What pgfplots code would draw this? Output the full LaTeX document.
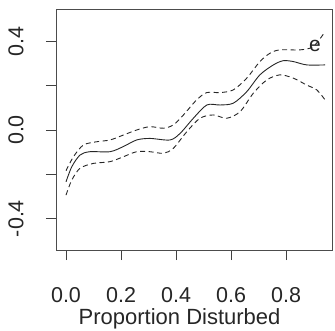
\documentclass[border=0pt]{standalone}
\usepackage{fontspec}
\setmainfont{Liberation Sans}
\usepackage{pgfplots}
\pgfplotsset{compat=1.18}
\begin{document}
\begin{tikzpicture}
\begin{axis}[
  name=ax,
  at={(0,0)}, anchor=south west,
  scale only axis,
  width=276.5pt, height=240pt,
  xmin=-0.0364, xmax=0.969,
  ymin=-0.542, ymax=0.542,
  axis line style={black!70, line width=1pt},
  xtick={0,0.2,0.4,0.6,0.8},
  xticklabels={0.0,0.2,0.4,0.6,0.8},
  ytick={-0.4,-0.2,0,0.2,0.4},
  yticklabels={-0.4,,0.0,,0.4},
  tick align=outside,
  xtick pos=bottom, ytick pos=left,
  major tick length=10pt,
  tick style={black!75, line width=1pt},
  /pgf/number format/assume math mode=true,
  ticklabel style={font=\fontsize{21.5}{24}\selectfont, text=black!85},
  xticklabel style={anchor=north, yshift=-24pt},
  yticklabel style={rotate=90, anchor=south, yshift=19pt},
  xlabel={Proportion Disturbed},
  xlabel style={font=\fontsize{22}{24}\selectfont, text=black!85, at={(axis cs:0.413,-0.542)}, anchor=north, yshift=-55pt},
  clip=false,
]
\addplot[black!85, line width=0.9pt, smooth, tension=0.5] coordinates {
(0.0,-0.234) (0.021,-0.166) (0.051,-0.113) (0.087,-0.098) (0.160,-0.098)
(0.208,-0.075) (0.257,-0.045) (0.305,-0.038) (0.378,-0.045) (0.415,-0.015)
(0.463,0.053) (0.512,0.113) (0.560,0.113) (0.608,0.121) (0.657,0.173)
(0.705,0.249) (0.754,0.294) (0.790,0.313) (0.827,0.309) (0.875,0.294) (0.942,0.294)
};
\addplot[black!85, line width=0.9pt, smooth, tension=0.5, dash pattern=on 5pt off 3.5pt] coordinates {
(0.0,-0.184) (0.027,-0.121) (0.063,-0.068) (0.112,-0.053) (0.160,-0.045)
(0.208,-0.023) (0.257,0.0) (0.305,0.015) (0.354,0.008) (0.390,0.023)
(0.427,0.068) (0.475,0.136) (0.512,0.169) (0.560,0.169) (0.608,0.181)
(0.657,0.234) (0.705,0.309) (0.742,0.347) (0.778,0.362) (0.851,0.362)
(0.899,0.377) (0.942,0.444)
};
\addplot[black!85, line width=0.9pt, smooth, tension=0.5, dash pattern=on 5pt off 3.5pt] coordinates {
(0.0,-0.294) (0.021,-0.226) (0.051,-0.173) (0.099,-0.151) (0.160,-0.143)
(0.208,-0.121) (0.257,-0.098) (0.305,-0.098) (0.354,-0.105) (0.390,-0.083)
(0.439,-0.008) (0.487,0.053) (0.536,0.068) (0.584,0.053) (0.633,0.083)
(0.681,0.166) (0.730,0.226) (0.778,0.249) (0.827,0.234) (0.875,0.203)
(0.912,0.181) (0.942,0.136)
};
\node[font=\fontsize{21}{24}\selectfont, text=black!85] at (axis cs:0.905,0.38) {e};
\end{axis}
\pgfresetboundingbox
\path (ax.south west) ++(-56pt,-80pt) coordinate (bl);
\path (ax.north east) ++(2.5pt,10pt) coordinate (tr);
\path[use as bounding box] (bl) rectangle (tr);
\end{tikzpicture}
\end{document}
